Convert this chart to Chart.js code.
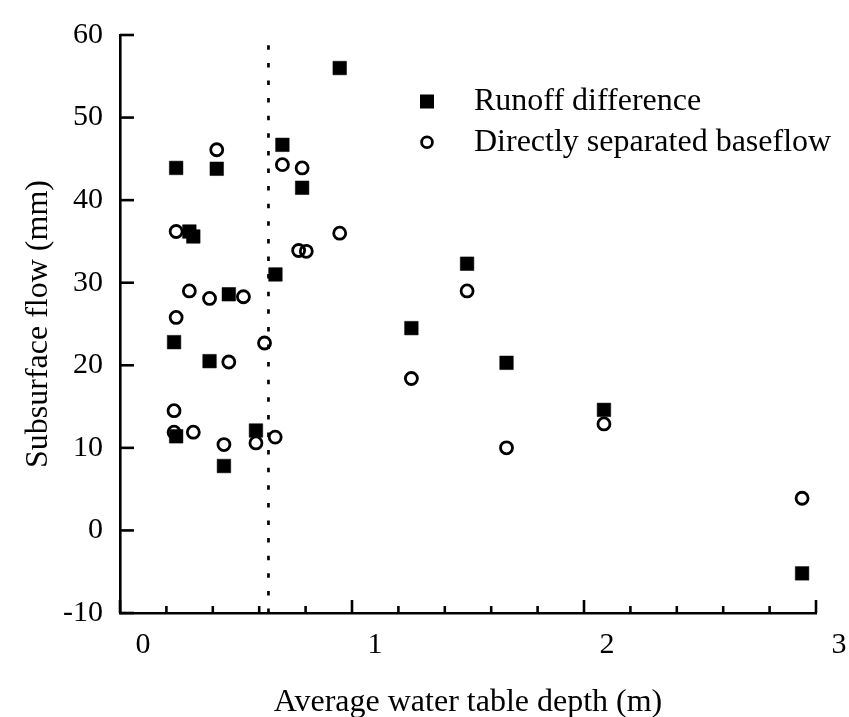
<!DOCTYPE html>
<html>
<head>
<meta charset="utf-8">
<script src="https://cdn.jsdelivr.net/npm/chart.js@4.4.1/dist/chart.umd.min.js"></script>
<style>
html,body{margin:0;padding:0;background:#fff;}
#wrap{width:849px;height:717px;position:relative;}
</style>
</head>
<body>
<div id="wrap"><canvas id="c"></canvas></div>
<script>
// ---- data ----
const seriesNames = ['Runoff difference', 'Directly separated baseflow'];
const runoffX = [0.242, 0.417, 0.700, 0.785, 0.299, 0.316, 0.670, 0.469, 0.233, 0.386, 0.242, 0.586, 0.448, 0.947, 1.256, 1.496, 1.666, 2.086, 2.940];
const runoffY = [43.9, 43.8, 46.7, 41.5, 36.2, 35.6, 31.0, 28.6, 22.8, 20.5, 11.4, 12.1, 7.8, 56.0, 24.5, 32.3, 20.3, 14.6, -5.2];
const baseflowX = [0.417, 0.700, 0.785, 0.242, 0.947, 0.770, 0.803, 0.299, 0.386, 0.532, 0.242, 0.623, 0.469, 0.233, 0.233, 0.316, 0.448, 0.586, 0.669, 1.256, 1.496, 1.666, 2.086, 2.940];
const baseflowY = [46.1, 44.3, 43.9, 36.2, 36.0, 33.9, 33.8, 29.0, 28.1, 28.3, 25.8, 22.7, 20.4, 14.5, 11.9, 11.9, 10.4, 10.6, 11.3, 18.4, 29.0, 10.0, 12.9, 3.9];
const thresholdDepth = 0.64;
const xTicks = [0, 1, 2, 3];
const xMinorStep = 0.2;
const yTicks = [-10, 0, 10, 20, 30, 40, 50, 60];
const xTitle = 'Average water table depth (m)';
const yTitle = 'Subsurface flow (mm)';

const SERIF = "'Liberation Serif', 'Times New Roman', serif";

const toPoints = (xs, ys) => xs.map((x, i) => ({x: x, y: ys[i]}));

const innerTicks = {
  id: 'innerTicks',
  afterDatasetsDraw(chart) {
    const {ctx, chartArea: a, scales: {x, y}} = chart;
    ctx.save();
    ctx.strokeStyle = '#000';
    ctx.lineWidth = 2.6;
    ctx.lineCap = 'butt';
    const xMin = xTicks[0], xMax = xTicks[xTicks.length - 1];
    const n = Math.round((xMax - xMin) / xMinorStep);
    for (let i = 0; i <= n; i++) {
      const v = xMin + i * xMinorStep;
      const px = x.getPixelForValue(v);
      const major = Math.abs(v - Math.round(v)) < 1e-6;
      const len = major ? 13 : 7;
      ctx.beginPath();
      ctx.moveTo(px, a.bottom);
      ctx.lineTo(px, a.bottom - len);
      ctx.stroke();
    }
    for (const v of yTicks) {
      const py = y.getPixelForValue(v);
      ctx.beginPath();
      ctx.moveTo(a.left, py);
      ctx.lineTo(a.left + 14, py);
      ctx.stroke();
    }
    ctx.restore();
  }
};

const legendBox = {
  id: 'legendBox',
  afterDraw(chart) {
    const {ctx, chartArea: a} = chart;
    const mx = a.left + 307, tx = a.left + 354;
    const y1 = a.top + 66.5, y2 = a.top + 107.3;
    ctx.save();
    ctx.fillStyle = '#000';
    ctx.fillRect(mx - 7, y1 - 7, 14, 14);
    ctx.beginPath();
    ctx.lineWidth = 2.8;
    ctx.strokeStyle = '#000';
    ctx.arc(mx, y2, 5.4, 0, Math.PI * 2);
    ctx.stroke();
    ctx.font = '32px ' + SERIF;
    ctx.textBaseline = 'middle';
    ctx.textAlign = 'left';
    ctx.fillText(seriesNames[0], tx, y1);
    ctx.fillText(seriesNames[1], tx, y2);
    ctx.restore();
  }
};

new Chart(document.getElementById('c'), {
  type: 'scatter',
  data: {
    datasets: [
      {
        label: seriesNames[1],
        data: toPoints(baseflowX, baseflowY),
        pointStyle: 'circle',
        pointRadius: 6,
        pointHoverRadius: 6,
        borderWidth: 2.8,
        borderColor: '#000',
        backgroundColor: 'rgba(0,0,0,0)',
        order: 1
      },
      {
        label: seriesNames[0],
        data: toPoints(runoffX, runoffY),
        pointStyle: 'rect',
        pointRadius: 9.6,
        pointHoverRadius: 9.6,
        borderWidth: 0.5,
        borderColor: '#000',
        backgroundColor: '#000',
        order: 2
      },
      {
        type: 'line',
        label: 'threshold',
        data: [{x: thresholdDepth, y: yTicks[0]}, {x: thresholdDepth, y: yTicks[yTicks.length - 1]}],
        showLine: true,
        borderColor: '#000',
        borderWidth: 2.7,
        borderDash: [4.5, 13.1],
        pointRadius: 0,
        fill: false,
        order: 3
      }
    ]
  },
  options: {
    responsive: true,
    maintainAspectRatio: false,
    devicePixelRatio: 1,
    animation: false,
    events: [],
    layout: {padding: {top: 26, right: 33, left: 0, bottom: 0}},
    plugins: {legend: {display: false}, tooltip: {enabled: false}},
    scales: {
      x: {
        type: 'linear',
        min: xTicks[0],
        max: xTicks[xTicks.length - 1],
        afterFit(s) { s.height = 104; },
        afterBuildTicks(s) { s.ticks = xTicks.map(v => ({value: v})); },
        grid: {display: false, drawTicks: false},
        border: {display: true, color: '#000', width: 2.6},
        ticks: {
          color: '#000',
          font: {family: SERIF, size: 30},
          padding: 14,
          labelOffset: 23,
          maxRotation: 0,
          autoSkip: false
        },
        title: {
          display: true,
          text: xTitle,
          color: '#000',
          font: {family: SERIF, size: 32, lineHeight: 1},
          padding: {top: 0, bottom: -2}
        }
      },
      y: {
        type: 'linear',
        min: yTicks[0],
        max: yTicks[yTicks.length - 1],
        afterFit(s) { s.width = 120; },
        afterBuildTicks(s) { s.ticks = yTicks.map(v => ({value: v})); },
        grid: {display: false, drawTicks: false},
        border: {display: true, color: '#000', width: 2.6},
        ticks: {
          color: '#000',
          font: {family: SERIF, size: 30},
          padding: 17,
          autoSkip: false
        },
        title: {
          display: true,
          text: yTitle,
          color: '#000',
          font: {family: SERIF, size: 32, lineHeight: 1},
          padding: {top: 23, bottom: 0}
        }
      }
    }
  },
  plugins: [innerTicks, legendBox]
});
</script>
</body>
</html>
